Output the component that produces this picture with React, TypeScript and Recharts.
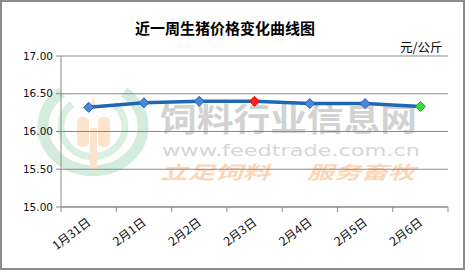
import { ComposedChart, Line, XAxis, YAxis, CartesianGrid } from 'recharts';

const DATES = ['1月31日', '2月1日', '2月2日', '2月3日', '2月4日', '2月5日', '2月6日'];
const PRICES = [16.32, 16.38, 16.4, 16.4, 16.37, 16.37, 16.33];
const Y_TICKS = [15, 15.5, 16, 16.5, 17];

const data = DATES.map((date, i) => ({ date, price: PRICES[i] }));

// special marker colours by point index
const MARKER_FILL: Record<number, string> = { 3: '#ff1f1f', 6: '#3fd93f' };
const MARKER_STROKE: Record<number, string> = { 3: '#c81010', 6: '#24a824' };

const GRID = '#8a8a8a';

function Diamond(props: any) {
  const { cx, cy, index } = props;
  if (cx == null || cy == null) return null;
  const r = 5;
  return (
    <polygon
      points={`${cx},${cy - r} ${cx + r},${cy} ${cx},${cy + r} ${cx - r},${cy}`}
      fill={MARKER_FILL[index] ?? '#4a88db'}
      stroke={MARKER_STROKE[index] ?? '#2660ad'}
      strokeWidth={1}
    />
  );
}

function XTick(props: any) {
  const { x, y, payload, index, visibleTicksCount } = props;
  const off = payload?.offset || 27.5;
  return (
    <g>
      <line x1={x - off} y1={y} x2={x - off} y2={y + 5} stroke={GRID} />
      {index === visibleTicksCount - 1 && (
        <line x1={x + off} y1={y} x2={x + off} y2={y + 5} stroke={GRID} />
      )}
      <text
        x={0}
        y={0}
        transform={`translate(${x + 3},${y + 17}) rotate(-37)`}
        textAnchor="end"
        fontSize={12}
        fontFamily="'Noto Sans CJK SC', sans-serif"
        fill="#111"
      >
        {payload.value}
      </text>
    </g>
  );
}

function Watermark() {
  return (
    <svg width={465} height={270} style={{ position: 'absolute', left: 0, top: 0 }}>
      {/* logo rings */}
      <path d="M 62 92 A 50 44 0 1 0 124 92" fill="none" stroke="#d4ecde" strokeWidth={11} />
      <path d="M 72 104 A 32 30 0 1 0 114 104" fill="none" stroke="#d9efe2" strokeWidth={7} />
      {/* wheat */}
      <rect x={77} y={117} width={12} height={30} rx={5} fill="#fce3cc" />
      <rect x={98} y={117} width={12} height={30} rx={5} fill="#fce3cc" />
      <rect x={90} y={128} width={7} height={42} rx={2} fill="#fce3cc" />
      <path d="M 93 97 L 96 105 L 93 112 L 90 105 Z" fill="#fde6d2" />
      <text
        x={160}
        y={131}
        fontSize={32}
        fontWeight="bold"
        fontFamily="'Noto Sans CJK SC', sans-serif"
        fill="#d2d2d2"
        textLength={257}
        lengthAdjust="spacingAndGlyphs"
      >
        饲料行业信息网
      </text>
      <text
        x={162}
        y={156}
        fontSize={16}
        fontFamily="'DejaVu Sans', sans-serif"
        fill="#d6d6d6"
        textLength={258}
        lengthAdjust="spacingAndGlyphs"
      >
        www.feedtrade.com.cn
      </text>
      <text
        x={160}
        y={179}
        fontSize={18}
        fontStyle="italic"
        fontWeight="bold"
        fontFamily="'Noto Sans CJK SC', sans-serif"
        fill="#fcd6b8"
        textLength={110}
        lengthAdjust="spacingAndGlyphs"
      >
        立足饲料
      </text>
      <text
        x={307}
        y={179}
        fontSize={18}
        fontStyle="italic"
        fontWeight="bold"
        fontFamily="'Noto Sans CJK SC', sans-serif"
        fill="#fcd6b8"
        textLength={108}
        lengthAdjust="spacingAndGlyphs"
      >
        服务畜牧
      </text>
    </svg>
  );
}

export default function App() {
  return (
    <div
      style={{
        position: 'fixed',
        left: 0,
        top: 0,
        width: 465,
        height: 270,
        background: '#fff',
        boxSizing: 'border-box',
        border: '2px solid #8c8c8c',
        overflow: 'hidden',
      }}
    >
      <div style={{ position: 'absolute', left: -2, top: -2, width: 465, height: 270 }}>
        <Watermark />
        <div
          style={{
            position: 'absolute',
            left: 0,
            top: 17,
            width: 450,
            textAlign: 'center',
            fontFamily: "'Noto Sans CJK SC', sans-serif",
            fontWeight: 'bold',
            fontSize: 15,
            color: '#000',
          }}
        >
          近一周生猪价格变化曲线图
        </div>
        <div
          style={{
            position: 'absolute',
            left: 400,
            top: 37,
            fontFamily: "'Noto Sans CJK SC', sans-serif",
            fontSize: 12.5,
            color: '#000',
          }}
        >
          元/公斤
        </div>
        <div style={{ position: 'absolute', left: 0, top: 0 }}>
          <ComposedChart
            width={465}
            height={270}
            data={data}
            margin={{ top: 56, right: 17, left: 0, bottom: 0 }}
          >
            <CartesianGrid vertical={false} stroke={GRID} strokeWidth={1} />
            <XAxis
              dataKey="date"
              scale="band"
              axisLine={{ stroke: GRID }}
              tickLine={false}
              tickSize={0}
              tickMargin={0}
              tick={<XTick />}
              interval={0}
              height={63}
            />
            <YAxis
              domain={[15, 17]}
              ticks={Y_TICKS}
              tickFormatter={(v: number) => v.toFixed(2)}
              axisLine={{ stroke: GRID }}
              tickLine={{ stroke: GRID }}
              tickSize={5}
              tickMargin={3}
              width={61}
              tick={{ fontSize: 10.5, fill: '#111', fontFamily: "'DejaVu Sans', sans-serif" }}
            />
            <Line
              type="linear"
              dataKey="price"
              stroke="#1d68b2"
              strokeWidth={3.5}
              dot={<Diamond />}
              activeDot={false}
              isAnimationActive={false}
            />
          </ComposedChart>
        </div>
      </div>
    </div>
  );
}
